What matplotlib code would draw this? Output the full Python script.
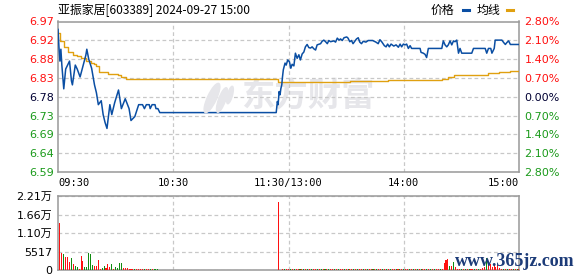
import numpy as np
import matplotlib
matplotlib.use("Agg")
import matplotlib.pyplot as plt
from matplotlib.patches import Ellipse

plt.rcParams['font.family'] = ['DejaVu Sans', 'Noto Sans CJK SC']

# minute index from 09:30 (0) to 15:00 (240), 11:30 and 13:00 share index 120
price_min = [0, 0.5, 1, 1.5, 2, 3, 4, 6, 7, 7.5, 9, 10, 11.5, 13, 14.5, 15, 16, 17.5,
             19, 20, 21, 22.5, 23.5, 24.5, 25.5, 27, 28, 29.5, 31.5, 33, 35, 37, 38,
             40, 42, 44, 45, 46, 47.5, 48, 49, 50.5, 51, 52, 53, 113.6, 114.2, 114.6,
             115.1, 115.6, 116, 116.5, 116.8, 117.3, 118.2, 118.8, 119.6, 120.5, 121.2,
             121.9, 122.8, 123.6, 124.5, 125.4, 126.2, 127.1, 128, 128.8, 129.7, 130.6,
             131.5, 132.3, 133.2, 134.1, 134.9, 136.7, 137.5, 138.4, 139.3, 140.2, 141,
             141.9, 143.6, 144.5, 145.4, 146.3, 147.1, 148, 148.9, 150.3, 151, 151.9,
             152.8, 153.6, 154.5, 155.4, 156.3, 157.1, 158, 158.9, 160.3, 161.5, 163.8,
             165.5, 166.7, 167.6, 168.5, 169.9, 170.8, 171.6, 172.5, 173.4, 174.8, 176,
             177.2, 178.1, 178.9, 179.8, 180.7, 181.5, 182.4, 183.3, 184.1, 188.5, 189,
             190.2, 191.1, 191.9, 192.8, 199.8, 200.6, 201.5, 202.4, 203.2, 204.1, 205,
             205.9, 206.7, 207.6, 208.5, 209.3, 210.2, 215.4, 216.3, 222.4, 223.2, 224.1,
             225.3, 225.9, 227.1, 227.6, 231.1, 232, 232.9, 233.7, 234.6, 235.5, 240]
price_val = [6.95, 6.905, 6.87, 6.90, 6.86, 6.80, 6.85, 6.87, 6.82, 6.81, 6.86, 6.85, 6.83,
             6.857, 6.885, 6.90, 6.875, 6.852, 6.81, 6.79, 6.76, 6.77, 6.735, 6.715, 6.70,
             6.76, 6.735, 6.765, 6.797, 6.75, 6.775, 6.75, 6.72, 6.73, 6.76, 6.76, 6.75,
             6.76, 6.76, 6.75, 6.76, 6.76, 6.75, 6.75, 6.74, 6.74, 6.768, 6.76, 6.793,
             6.785, 6.80, 6.81, 6.827, 6.848, 6.865, 6.86, 6.873, 6.868, 6.852, 6.862,
             6.858, 6.89, 6.877, 6.886, 6.873, 6.888, 6.893, 6.906, 6.912, 6.904, 6.903,
             6.906, 6.901, 6.898, 6.911, 6.914, 6.920, 6.923, 6.919, 6.914, 6.922, 6.919,
             6.921, 6.918, 6.928, 6.923, 6.926, 6.922, 6.929, 6.931, 6.928, 6.919, 6.922,
             6.914, 6.920, 6.926, 6.929, 6.918, 6.914, 6.920, 6.918, 6.922, 6.922, 6.918,
             6.914, 6.924, 6.919, 6.909, 6.906, 6.913, 6.906, 6.913, 6.908, 6.911, 6.905,
             6.913, 6.906, 6.913, 6.911, 6.913, 6.902, 6.909, 6.902, 6.902, 6.892, 6.890,
             6.887, 6.879, 6.902, 6.902, 6.921, 6.911, 6.906, 6.911, 6.921, 6.911, 6.921,
             6.919, 6.923, 6.890, 6.902, 6.890, 6.890, 6.902, 6.902, 6.890, 6.902, 6.902,
             6.890, 6.902, 6.923, 6.923, 6.917, 6.912, 6.917, 6.921, 6.912, 6.912]

avg_min = [0, 1, 3, 5, 7.7, 10, 12, 14.7, 17, 19, 20, 21.6, 26, 31, 33, 35.5, 114.5,
           152, 172, 200, 203, 206, 224, 229.5, 235.5, 240]
avg_val = [6.94, 6.92, 6.905, 6.893, 6.886, 6.882, 6.878, 6.87, 6.866, 6.862, 6.858,
           6.843, 6.838, 6.834, 6.83, 6.826, 6.818, 6.820, 6.822, 6.826, 6.831, 6.834,
           6.839, 6.842, 6.845, 6.845]

# volume, minutes 1..52 in the morning
vol_am = [14100, 5160, 4650, 3970, 3970, 2480, 3600, 1800, 1200, 1000, 300, 4200,
          2680, 1000, 1000, 5160, 4900, 1500, 1200, 1200, 3100, 300, 600, 1200,
          700, 1800, 1000, 1800, 300, 1000, 600, 2000, 2200, 700, 700, 700,
          400, 400, 300, 300, 400, 300, 300, 400, 300, 300, 400, 300, 300, 300, 400, 300]
dir_am = "rrgrrrgrggrrrgggggrrrrggrrrgrggggrrr" + "rrrgrrrrgrrgrggg"
# single trade at 11:30
vol_noon = 20190
# afternoon, minutes 117..240
vol_pm = [300, 300, 250, 300, 300, 250, 300, 300, 300, 250, 300, 300,
          250, 300, 300, 300, 250, 300, 300, 250, 300, 300, 300, 250,
          300, 300, 250, 300, 300, 300, 250, 300, 300, 250, 300, 300,
          300, 250, 300, 300, 250, 300, 300, 300, 250, 300, 300, 250,
          300, 300, 300, 250, 300, 300, 250, 300, 300, 300, 250, 300,
          300, 250, 300, 300, 300, 250, 300, 300, 250, 300, 300, 300,
          250, 300, 300, 250, 300, 300, 300, 250, 300, 300, 250, 400,
          2180, 2980, 3190, 1190, 1190, 2480, 1000, 400, 300, 300, 250, 300,
          300, 250, 300, 300, 300, 250, 300, 400, 600, 800, 3480, 1490,
          1800, 1000, 1490, 1000, 1490, 600, 300, 300, 250, 300, 300, 250,
          300, 300, 250, 300]
dir_pm = ("rgrrgrgrrgrg" "rgrgrrgrgrgr" "grrgrgrrgrgr" "rgrgrrgrgrrg" "rgrrgrgrgrrg"
          "rgrgrrgrgrgr" "grrgrgrgrrgr" "rrrgrgrrrgrg" "rgrrgrgrrrgr" "rrrrrrrgrgrr" "grgr")

price_ticks = ['6.59', '6.64', '6.69', '6.73', '6.78', '6.83', '6.88', '6.92', '6.97']
pct_ticks = ['2.80%', '2.10%', '1.40%', '0.70%', '0.00%', '0.70%', '1.40%', '2.10%', '2.80%']
vol_ticks = ['0', '5517', '1.10万', '1.66万', '2.21万']
vol_max = 22068
time_pos = [0, 60, 120, 180, 240]
time_labels = ['09:30', '10:30', '11:30/13:00', '14:00', '15:00']

RED = '#ff1010'
GREEN = '#1a9a1a'
DARK = '#000033'
GRID = '#c8c8c8'
SPINE = '#999999'

W, H = 578, 276
fig = plt.figure(figsize=(W / 100, H / 100), dpi=100)


def box(x0, y0, x1, y1):
    return [x0 / W, 1 - y1 / H, (x1 - x0) / W, (y1 - y0) / H]


# ---- price panel
ax = fig.add_axes(box(58, 21.5, 519, 172))
ax.set_xlim(0, 240)
ax.set_ylim(6.59, 6.97)
yt = np.linspace(6.59, 6.97, 9)
ax.set_yticks(yt)
ax.set_yticklabels(price_ticks, fontsize=8)
lab_cols = [GREEN] * 4 + [DARK] + [RED] * 4
for t, c in zip(ax.get_yticklabels(), lab_cols):
    t.set_color(c)
ax.set_xticks([60, 120, 180])
ax.set_xticklabels([])
ax.tick_params(length=0, pad=3)
ax.grid(True, color=GRID, linestyle=(0, (3, 2.2)), linewidth=0.9)
for s in ax.spines.values():
    s.set_color(SPINE)
    s.set_linewidth(1.1)

ax2 = ax.twinx()
ax2.set_ylim(6.59, 6.97)
ax2.set_yticks(yt)
ax2.set_yticklabels(pct_ticks[::-1], fontsize=8)
for t, c in zip(ax2.get_yticklabels(), lab_cols):
    t.set_color(c)
ax2.tick_params(length=0, pad=4)
for s in ax2.spines.values():
    s.set_visible(False)

# watermark
ax.text(95.5, 6.78, '东方财富', fontsize=24, fontweight='bold', color='#e6e6ea',
        family=['Noto Sans CJK SC'], ha='left', va='center', zorder=0)
for cx, cy, w, h, a in [(212, 178, 9, 32, -25), (222, 176, 7, 26, -20), (230, 181, 5, 18, -15)]:
    fig.add_artist(Ellipse((cx, cy), w, h, angle=a, color='#e6e6ea', transform=None, zorder=0.5))

ax.plot(avg_min, avg_val, color='#e0a010', linewidth=1.0, drawstyle='steps-post', zorder=3)
ax.plot(price_min, price_val, color='#0a4ea3', linewidth=1.1, zorder=4)

tr = ax.get_xaxis_transform()
for p, s in zip(time_pos, time_labels):
    ha = 'left' if p == 0 else ('right' if p == 240 else 'center')
    ax.text(p, -0.073, s, transform=tr, ha=ha, va='center', fontsize=7.5,
            family='DejaVu Sans Mono', color='#000000')

# ---- volume panel
vax = fig.add_axes(box(58, 196, 519, 270))
vax.set_xlim(0, 240)
vax.set_ylim(0, vol_max)
vax.set_yticks(np.linspace(0, vol_max, 5))
vax.set_yticklabels(vol_ticks, fontsize=8)
vax.set_xticks([60, 120, 180])
vax.set_xticklabels([])
vax.tick_params(length=0, pad=4)
vax.grid(True, color=GRID, linestyle=(0, (3, 2.2)), linewidth=0.9)
for s in vax.spines.values():
    s.set_color(SPINE)
    s.set_linewidth(1.1)

am_x = np.arange(1, len(vol_am) + 1)
pm_x = np.arange(117, 117 + len(vol_pm))
cmap = {'r': RED, 'g': '#108a10'}
vax.bar(am_x, vol_am, width=0.55, color=[cmap[d] for d in dir_am], zorder=3)
vax.bar([115], [vol_noon], width=0.6, color=RED, zorder=3)
vax.bar(pm_x, vol_pm, width=0.55, color=[cmap[d] for d in dir_pm], zorder=3)

# ---- title and legend
fig.text(58 / W, 1 - 10 / H, '亚振家居[603389] 2024-09-27 15:00', fontsize=8.6,
         family=['Noto Sans CJK SC'], ha='left', va='center')
fig.text(431 / W, 1 - 10 / H, '价格', fontsize=8.6, family=['Noto Sans CJK SC'],
         ha='left', va='center')
fig.text(477 / W, 1 - 10 / H, '均线', fontsize=8.6, family=['Noto Sans CJK SC'],
         ha='left', va='center')
fig.add_artist(plt.Line2D([463 / W, 469 / W], [1 - 9.5 / H] * 2, color='#0a4ea3', linewidth=2.2))
fig.add_artist(plt.Line2D([507 / W, 513 / W], [1 - 9.5 / H] * 2, color='#e0a010', linewidth=2.2))

fig.text(455 / W, 1 - 261 / H, 'www.365jz.com', fontsize=13, family='Liberation Serif',
         fontweight='bold', color='#1c3b78', ha='left', va='center', zorder=10)

fig.savefig('out.png', dpi=100)
